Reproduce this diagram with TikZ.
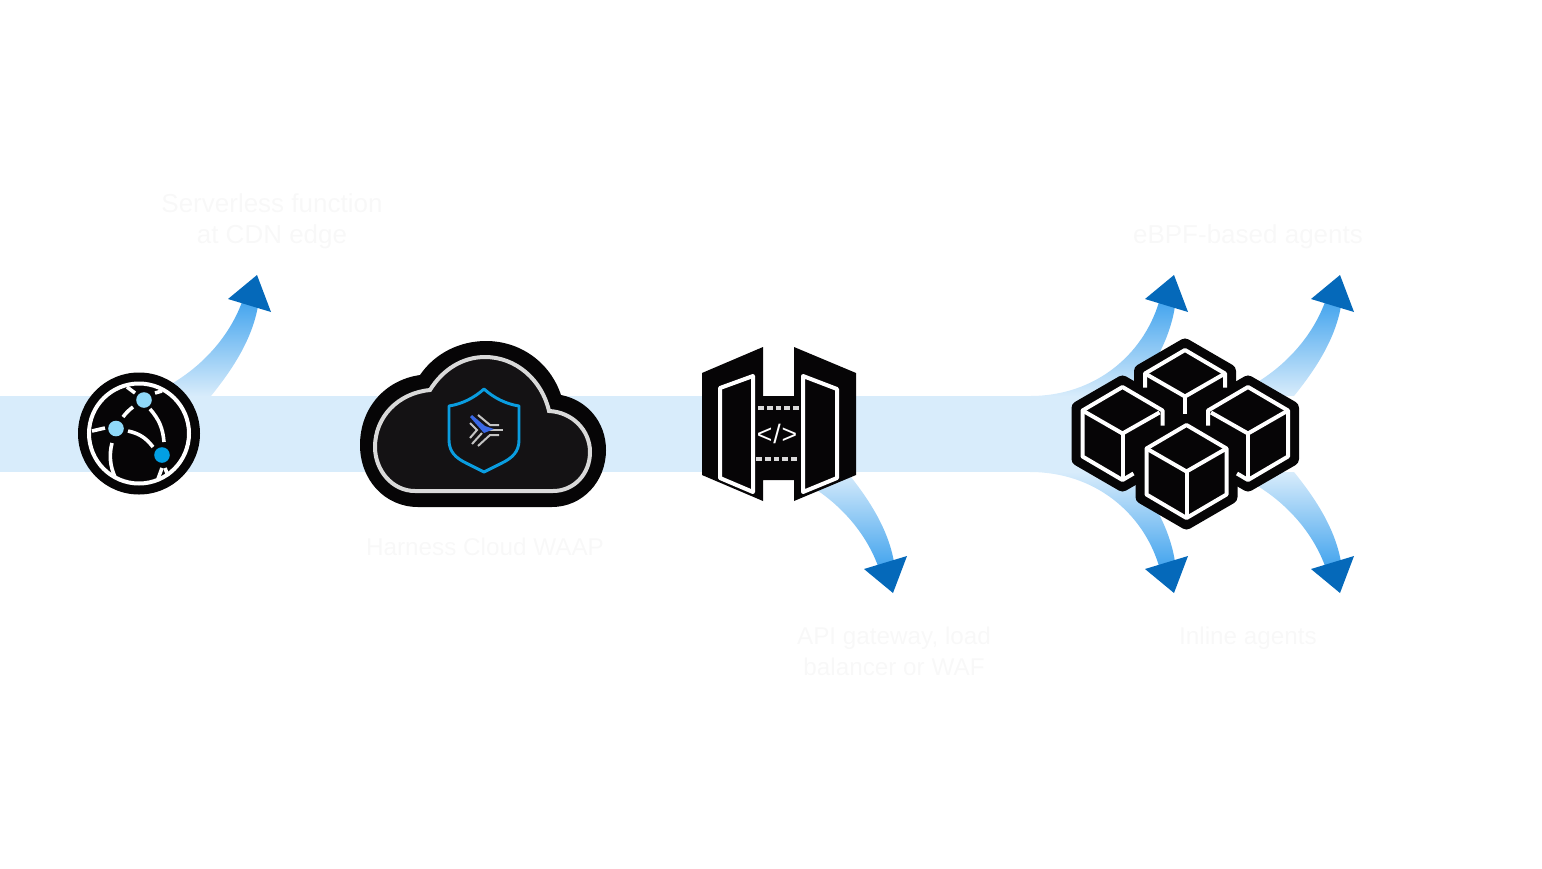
\documentclass[tikz,border=0pt]{standalone}
\usepackage{fontspec}
\setmainfont{Liberation Sans}
\usepackage{xcolor}
\definecolor{bandblue}{HTML}{D8ECFB}
\definecolor{fadeblue}{HTML}{45A5EE}
\definecolor{headblue}{HTML}{0569BA}
\definecolor{iconblack}{HTML}{060506}
\definecolor{cloudfill}{HTML}{141214}
\definecolor{cloudline}{HTML}{D9D9D9}
\definecolor{logoline}{HTML}{C4C4C4}
\definecolor{shieldblue}{HTML}{0A9DE0}
\definecolor{logoblue}{HTML}{3A68E6}
\definecolor{dotlight}{HTML}{8FD9F9}
\definecolor{dotdark}{HTML}{029FE3}
\definecolor{labelgrey}{HTML}{F8F8F8}
\tikzset{
    iconline/.style={draw=white,line width=3pt,line join=round},
    globeline/.style={draw=white,line width=2.7pt},
    logo/.style={draw=logoline,line width=1.5pt},
    hexbase/.style={fill=iconblack,draw=iconblack,line width=10.5pt,line join=round},
    gatedash/.style={draw=cloudline,line width=2.6pt,dash pattern=on 4.4pt off 2.2pt},
    fadeup/.style={top color=fadeblue,bottom color=bandblue,draw=none},
    fadedown/.style={top color=bandblue,bottom color=fadeblue,draw=none},
    caption/.style={text=labelgrey,align=center,font=\fontsize{19.5}{23.25}\selectfont},
    smallcaption/.style={caption,font=\fontsize{18.2}{23.25}\selectfont},
}
\begin{document}
\begin{tikzpicture}[x=0.75pt,y=-0.75pt]
    \useasboundingbox (0,0) rectangle (1542,868);

    % Band
    \fill[bandblue] (0,396) rectangle (1110,472);

    % Arrows up
    \foreach \dx in {0,1083} {
        \shade[fadeup,shift={(\dx,0)}] (160,390) .. controls (197,372) and (228,340) .. (242,302) -- (258,306) .. controls (252,340) and (232,370) .. (211,396) -- (160,396) -- cycle;
        \fill[headblue,shift={(\dx,0)}] (257,275) -- (271,312) -- (228,299) -- cycle;
    }
    \shade[fadeup] (1030,396) .. controls (1095,396) and (1143,355) .. (1159,302) -- (1175,306) .. controls (1170,340) and (1150,375) .. (1128,396) -- cycle;
    \fill[headblue] (1174,275) -- (1188,312) -- (1145,299) -- cycle;

    % Arrows down
    \foreach \dx in {636,1083} {
        \shade[fadedown,shift={(\dx,868)},yscale=-1] (160,390) .. controls (197,372) and (228,340) .. (242,302) -- (258,306) .. controls (252,340) and (232,370) .. (211,396) -- (160,396) -- cycle;
        \fill[headblue,shift={(\dx,868)},yscale=-1] (257,275) -- (271,312) -- (228,299) -- cycle;
    }
    \shade[fadedown] (1030,472) .. controls (1095,472) and (1143,513) .. (1159,566) -- (1175,562) .. controls (1170,528) and (1150,493) .. (1128,472) -- cycle;
    \fill[headblue] (1174,593) -- (1188,556) -- (1145,569) -- cycle;

    % Globe
    \fill[iconblack] (139,433.5) circle (61);
    \draw[draw=white,line width=3pt] (139,433.5) circle (50);
    \draw[globeline] (127,387) -- (135,393);
    \draw[globeline] (155,393) -- (162,391);
    \draw[globeline] (123,417) to[bend left=8] (133,407);
    \draw[globeline] (150,409) to[bend left=18] (164,442);
    \draw[globeline] (128,431) to[bend left=20] (153,447);
    \draw[globeline] (92,431) -- (105,428);
    \draw[globeline] (112,443) .. controls (109,455) and (110,466) .. (115,477);
    \draw[globeline] (158,479) -- (162,468);
    \draw[globeline] (165,468) -- (168,476);
    \fill[dotlight] (144,400) circle (7.8);
    \fill[dotlight] (116,428.5) circle (7.8);
    \fill[dotdark] (162,455) circle (7.8);

    % Cloud
    \fill[iconblack] (418,507) .. controls (385,507) and (360,480) .. (360,445) .. controls (360,408) and (385,380) .. (420,375) .. controls (435,353) and (460,341) .. (486,341) .. controls (520,341) and (550,362) .. (561,395) .. controls (587,400) and (606,422) .. (606,450) .. controls (606,482) and (582,507) .. (552,507) -- cycle;
    \draw[fill=cloudfill,draw=cloudline,line width=3pt] (415,491) .. controls (392,491) and (375,470) .. (375,447) .. controls (375,417) and (398,393) .. (430,390) .. controls (443,369) and (463,357) .. (485,357) .. controls (516,357) and (542,380) .. (549,411) .. controls (572,412) and (590,430) .. (590,452) .. controls (590,474) and (574,491) .. (553,491) -- cycle;
    \draw[draw=shieldblue,line width=2.2pt,line join=round] (484,389) .. controls (474,398) and (462,404) .. (449,406) -- (449,440) .. controls (449,452) and (456,458) .. (466,463) -- (484,472) -- (502,463) .. controls (512,458) and (519,452) .. (519,440) -- (519,406) .. controls (506,404) and (494,398) .. (484,389) -- cycle;
    \draw[logo] (478,415) -- (490,425) -- (499,425);
    \draw[logo] (484,430) -- (503,430);
    \draw[logo] (478,446) -- (490,435) -- (499,435);
    \draw[logo] (470,423) -- (477,430) -- (470,438);
    \draw[logo] (472,444) -- (482,433);
    \fill[logoblue] (470,417) -- (472,415) -- (485,426) -- (494,429) -- (484,433) -- cycle;

    % Gateway
    \fill[iconblack] (702,373) -- (763,347) -- (763,396) -- (794,396) -- (794,347) -- (856,373) -- (856,475) -- (794,501) -- (794,480) -- (763,480) -- (763,501) -- (702,475) -- cycle;
    \draw[iconline] (720,388) -- (753,376) -- (753,492) -- (720,478) -- cycle;
    \draw[iconline] (803,376) -- (837,389) -- (837,478) -- (803,492) -- cycle;
    \draw[gatedash] (758,408) -- (800,408);
    \draw[gatedash] (756,459) -- (798,459);
    \node[text=white,font=\fontsize{20}{20}\selectfont] (code) at (777,434) {<\kern.6pt/\kern.6pt>};

    % Cubes
    \foreach \cx/\cy in {1122.5/433.5,1185/396.5,1248/433.5,1186.5/471.5} {
        \draw[hexbase,shift={(\cx,\cy)}] (0,-51) -- (44,-25.5) -- (44,25.5) -- (0,51) -- (-44,25.5) -- (-44,-25.5) -- cycle;
    }
    % left and right cube
    \foreach \cx/\sx in {1122.5/1,1248/-1} {
        \begin{scope}[shift={(\cx,433.5)},xscale=\sx]
            \draw[iconline] (40,-8) -- (40,-23) -- (0,-46.5) -- (-40,-23) -- (-40,23) -- (0,46.5) -- (11,40);
            \draw[iconline] (-40,-23) -- (0,0) -- (37,-21);
            \draw[iconline] (0,0) -- (0,46.5);
        \end{scope}
    }
    % top cube
    \begin{scope}[shift={(1185,396.5)}]
        \draw[iconline] (-40,-9) -- (-40,-23) -- (0,-46.5) -- (40,-23) -- (40,-9);
        \draw[iconline] (-40,-23) -- (0,0) -- (40,-23);
        \draw[iconline] (0,0) -- (0,17);
    \end{scope}
    % front cube
    \begin{scope}[shift={(1186.5,471.5)}]
        \draw[iconline] (0,-46.5) -- (40,-23) -- (40,23) -- (0,46.5) -- (-40,23) -- (-40,-23) -- cycle;
        \draw[iconline] (-40,-23) -- (0,0) -- (40,-23);
        \draw[iconline] (0,0) -- (0,46.5);
    \end{scope}

    % Labels
    \node[caption] (edge) at (272,221) {Serverless function\\at CDN edge};
    \node[smallcaption] (waap) at (485,547) {Harness Cloud WAAP};
    \node[smallcaption] (gateway) at (894,651) {API gateway, load\\balancer or WAF};
    \node[caption] (ebpf) at (1248,237) {eBPF-based agents};
    \node[smallcaption] (inline) at (1248,638) {Inline agents};
\end{tikzpicture}
\end{document}
